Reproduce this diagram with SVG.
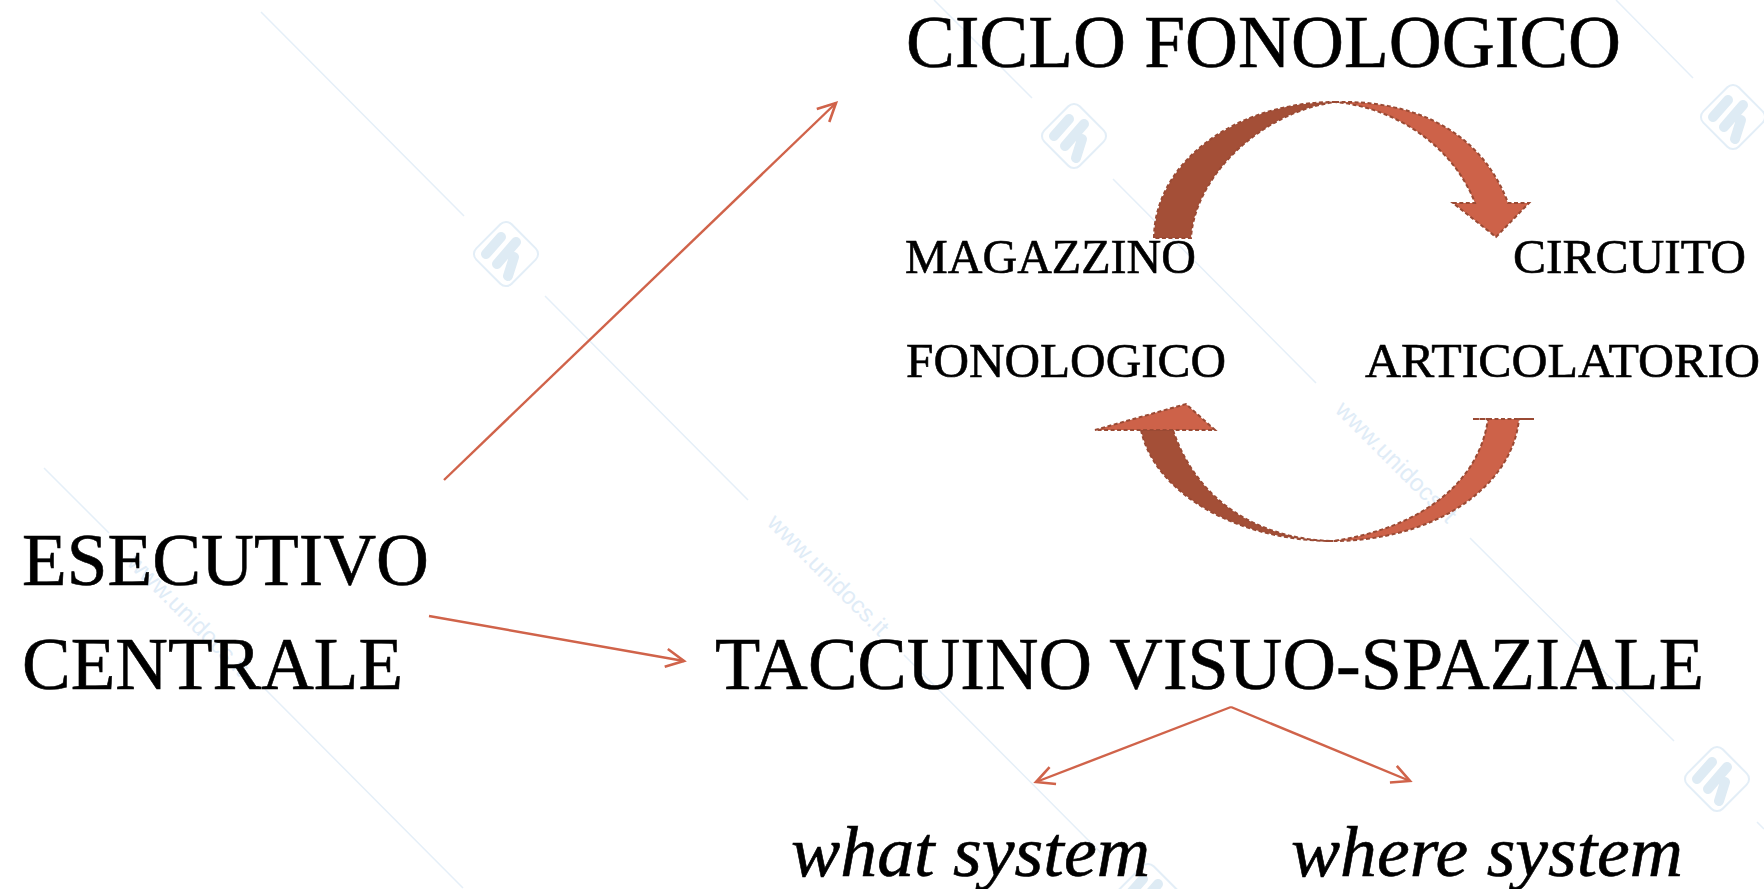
<svg xmlns="http://www.w3.org/2000/svg" width="1764" height="889" viewBox="0 0 1764 889">
<style>
.t{font-family:"Liberation Serif","Times New Roman",serif;fill:#000;stroke:#000;stroke-width:.6}
.big{font-size:75px}.mid{font-size:49px}.it{font-size:72px;font-style:italic}
.wl{stroke:#e5eff8;stroke-width:1.5;fill:none}
.wt{font-family:"Liberation Sans",Arial,sans-serif;font-size:24px;fill:#e0ecf7}
.lb{fill:none;stroke:#e3eef7;stroke-width:2}
.lf{fill:none;stroke:#deebf4;stroke-width:10;stroke-linecap:round}
.c{fill:none;stroke:#d0634a;stroke-width:2.4}
.d{fill:#a44f37;stroke:#9a4a34;stroke-width:2;stroke-dasharray:4 2.5}
.l{fill:#cd6249;stroke:#9a4a34;stroke-width:2;stroke-dasharray:4 2.5}
</style>
<defs>
<marker id="ah" markerUnits="userSpaceOnUse" markerWidth="30" markerHeight="30" refX="24" refY="12" orient="auto"><path d="M6 3 L24 12 L6 21" fill="none" stroke="#d0634a" stroke-width="2.6"/></marker>
<g id="logo"><rect x="-25" y="-25" width="50" height="50" rx="8" transform="rotate(45)" class="lb"/><path class="lf" d="M-5 -17 L-20 0 M10 -12 L-9 10 M8 3 L2 22"/></g>
</defs>
<rect width="1764" height="889" fill="#fff"/>
<g id="watermark">
<path class="wl" d="M261 12L464 216M545 296L748 500M934 0L1032 98M1113 179L1316 383M1616 0L1693 78M44 468L109 533M264 688L463 888M904 655L1107 859M1470 538L1674 741M1757 822L1764 829"/>
<use href="#logo" x="506" y="254"/><use href="#logo" x="1074" y="136"/><use href="#logo" x="1733" y="117"/><use href="#logo" x="1717" y="779"/><use href="#logo" x="1148" y="896"/>
<text class="wt" transform="translate(766 524) rotate(45)" textLength="160">www.unidocs.it</text>
<text class="wt" transform="translate(1334 411) rotate(45)" textLength="160">www.unidocs.it</text>
<text class="wt" transform="translate(126 564) rotate(45)" textLength="160">www.unidocs.it</text>
</g>
<g id="connectors">
<path class="c" d="M444 480L836 103" marker-end="url(#ah)"/>
<path class="c" d="M429 616L684 661" marker-end="url(#ah)"/>
<path class="c" d="M1231 707L1036 782" marker-end="url(#ah)"/>
<path class="c" d="M1231 707L1410 781" marker-end="url(#ah)"/>
</g>
<g id="loop-top">
<path class="d" d="M1154 238A181 136 0 0 1 1335 102C1262 112 1195 175 1191 238Z"/>
<path class="l" d="M1335 102C1410 100 1480 128 1508 203L1529 203L1496 237L1453 203L1475 203C1455 150 1400 108 1335 102Z"/>
</g>
<g id="loop-bottom">
<path class="l" d="M1473 419L1488 419C1478 490 1410 530 1333 541C1430 541 1512 490 1519 419L1534 419Z"/>
<path class="d" d="M1141 430C1155 495 1240 541 1333 541C1270 540 1200 510 1173 430Z"/>
<path class="l" d="M1095 430L1186 404L1215 430Z"/>
</g>
<g id="n-ciclo"><text class="t big" x="906" y="67" textLength="715" lengthAdjust="spacingAndGlyphs">CICLO FONOLOGICO</text></g>
<g id="n-magazzino"><text class="t mid" x="905" y="273" textLength="291" lengthAdjust="spacingAndGlyphs">MAGAZZINO</text></g>
<g id="n-circuito"><text class="t mid" x="1513" y="273" textLength="233" lengthAdjust="spacingAndGlyphs">CIRCUITO</text></g>
<g id="n-fonologico"><text class="t mid" x="906" y="377" textLength="320" lengthAdjust="spacingAndGlyphs">FONOLOGICO</text></g>
<g id="n-articolatorio"><text class="t mid" x="1365" y="377" textLength="395" lengthAdjust="spacingAndGlyphs">ARTICOLATORIO</text></g>
<g id="n-esecutivo"><text class="t big" x="22" y="585" textLength="407" lengthAdjust="spacingAndGlyphs">ESECUTIVO</text></g>
<g id="n-centrale"><text class="t big" x="22" y="689" textLength="381" lengthAdjust="spacingAndGlyphs">CENTRALE</text></g>
<g id="n-taccuino"><text class="t big" x="715" y="689" textLength="989" lengthAdjust="spacingAndGlyphs">TACCUINO VISUO-SPAZIALE</text></g>
<g id="n-what"><text class="t it" x="791" y="876" textLength="359" lengthAdjust="spacingAndGlyphs">what system</text></g>
<g id="n-where"><text class="t it" x="1291" y="876" textLength="392" lengthAdjust="spacingAndGlyphs">where system</text></g>
</svg>
